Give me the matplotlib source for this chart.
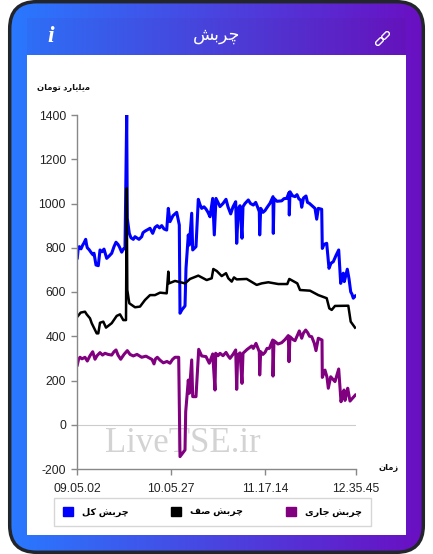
import matplotlib
matplotlib.use("Agg")
import matplotlib.pyplot as plt
import numpy as np
from matplotlib.patches import FancyBboxPatch, Rectangle, Patch
from matplotlib.colors import LinearSegmentedColormap
from matplotlib.transforms import Affine2D

plt.rcParams['font.family'] = ['Liberation Sans', 'DejaVu Sans']
plt.rcParams['axes.unicode_minus'] = False

# arabic letters are already shaped, reversed because matplotlib does not do rtl
title_txt = "\uFB7C\uFEAE\uFE91\uFEB6"[::-1]
y_label = "\uFEE3\uFBFE\uFEE0\uFBFE\uFE8E\uFEAD\uFEA9 \uFE97\uFEEE\uFEE3\uFE8E\uFEE5"[::-1]
x_label = "\uFEAF\uFEE3\uFE8E\uFEE5"[::-1]
name_total = "\uFB7C\uFEAE\uFE91\uFEB6 \uFB90\uFEDE"[::-1]
name_queue = "\uFB7C\uFEAE\uFE91\uFEB6 \uFEBB\uFED2"[::-1]
name_current = "\uFB7C\uFEAE\uFE91\uFEB6 \uFE9F\uFE8E\uFEAD\uFBFC"[::-1]

tick_pos = [0, 94, 188, 279]
tick_labels = ["09.05.02", "10.05.27", "11.17.14", "12.35.45"]
y_ticks = [-200, 0, 200, 400, 600, 800, 1000, 1200, 1400]

total_x = [0.3, 1.3, 2.3, 4, 5.7, 7, 8.7, 9.5, 10.3, 12,
           14.7, 16, 17, 19, 21.3, 23, 25, 27, 29.7, 32,
           34.7, 37, 39, 41, 42.3, 44.7, 46.5, 48, 49.7, 50.3,
           52.3, 54, 56.3, 58, 59.7, 62, 64.7, 66, 68, 70,
           73, 75.7, 78, 80.3, 82.5, 84.7, 87, 89.7, 91.3, 93,
           96, 99.7, 102.3, 103, 105, 108, 109, 111.3, 112.3, 114.7,
           115.7, 119, 121.3, 123, 124.7, 127, 129, 131, 133, 135.7,
           137.3, 139, 141, 143, 146, 149, 151, 153.7, 156, 158.7,
           159.7, 161.3, 163, 165, 166, 168, 171.3, 173.5, 176.3, 178.7,
           180.5, 182.3, 182.7, 183.7, 186, 188, 190.5, 193, 196, 196.3,
           197, 200, 204.7, 207, 209.7, 212, 212.3, 213, 215.5, 218,
           220, 222, 223.7, 224.7, 226.5, 229, 230.5, 232.3, 235, 238,
           239.7, 241.3, 244.7, 245.3, 247, 249.7, 252, 254, 256.3, 259,
           261.7, 263.7, 265, 266.3, 267.3, 270.3, 272, 273.7, 275, 276.3,
           278.3]
total_y = [754, 800, 805, 795, 812, 822, 838, 815, 800, 792,
           775, 768, 775, 722, 719, 790, 782, 794, 752, 762,
           775, 805, 825, 815, 805, 780, 795, 797, 1400, 933,
           865, 845, 838, 850, 845, 838, 850, 868, 875, 880,
           888, 865, 892, 900, 890, 900, 885, 880, 978, 918,
           945, 960, 903, 504, 520, 537, 707, 858, 812, 956,
           790, 805, 1019, 995, 978, 985, 975, 960, 940, 1023,
           858, 1023, 1005, 986, 1000, 1019, 985, 953, 985, 1008,
           820, 978, 990, 843, 986, 1000, 1016, 1000, 993, 1005,
           985, 963, 858, 978, 960, 968, 985, 1001, 1031, 865,
           1023, 1010, 1012, 1022, 1023, 1049, 948, 1053, 1035, 1031,
           1040, 1020, 1016, 983, 1025, 1034, 1005, 1001, 990, 978,
           929, 978, 974, 797, 815, 820, 707, 730, 737, 765,
           790, 639, 670, 685, 647, 703, 660, 601, 590, 572,
           582]

queue_x = [0.3, 3.7, 8, 9.7, 13, 14.7, 19.7, 21.3, 23, 26.3,
           29, 34.7, 39.7, 43, 46.3, 49, 49.7, 50.3, 52.3, 58,
           63, 68, 73, 78, 83, 89.7, 91.3, 92, 98, 108,
           113, 121.3, 129.7, 134.7, 136.3, 139.7, 144.7, 149, 151.3, 154.7,
           157, 159.7, 169.7, 179.7, 184.7, 191.3, 201.3, 210.3, 212.3, 220.3,
           223, 233, 241.3, 249.7, 252.3, 254.7, 258, 271.3, 273.7, 278]
queue_y = [488, 507, 511, 499, 481, 459, 413, 413, 461, 466,
           439, 459, 492, 499, 473, 473, 1069, 609, 549, 531,
           534, 564, 586, 586, 597, 594, 692, 639, 650, 639,
           659, 674, 654, 662, 704, 695, 672, 685, 662, 647,
           666, 657, 659, 632, 639, 644, 636, 636, 659, 639,
           609, 606, 586, 572, 526, 519, 537, 538, 466, 439]

current_x = [0.3, 1.5, 3, 5, 8, 10.3, 13, 15.7, 18, 20,
             23, 25.5, 28, 31, 34.7, 37, 39, 41, 43.7, 47,
             50.3, 53, 56.3, 60, 64.7, 69, 73, 75, 77, 78.5,
             80.3, 83, 86.3, 90, 93, 95.5, 98, 101.7, 103, 108,
             108.7, 111.3, 112.3, 114.7, 115.7, 119, 121.7, 124.7, 129, 132.3,
             135.7, 138, 138.7, 141, 143, 146, 149, 151, 153, 156,
             158.7, 159.7, 160.7, 163, 165, 166, 170, 174.7, 176.3, 179,
             181, 182.3, 182.7, 183.7, 186, 188, 190, 192.3, 195.7, 196,
             197, 201, 204.7, 208, 211.3, 212, 213, 216, 218, 220,
             222.3, 224.7, 226.5, 228.7, 230.7, 232.5, 234.7, 237.3, 239, 241.3,
             245, 245.3, 248, 250, 251.3, 253.7, 256, 258, 261.7, 264,
             266, 267, 268, 270, 270.7, 273, 275.5, 278.3]
current_y = [270, 295, 305, 298, 305, 288, 312, 330, 296, 312,
             326, 315, 323, 318, 315, 330, 338, 315, 296, 318,
             335, 318, 311, 318, 305, 310, 300, 295, 275, 298,
             305, 292, 280, 286, 278, 295, 305, 305, -144, -114,
             59, 202, 142, 293, 127, 127, 341, 311, 308, 278,
             320, 157, 323, 312, 323, 312, 327, 312, 300, 318,
             338, 160, 315, 325, 187, 323, 340, 356, 345, 368,
             345, 330, 225, 330, 318, 327, 345, 345, 383, 220,
             380, 365, 371, 385, 403, 285, 398, 385, 380, 400,
             424, 391, 415, 428, 416, 400, 398, 368, 335, 391,
             383, 214, 247, 215, 165, 217, 205, 195, 252, 104,
             145, 157, 110, 150, 165, 107, 120, 134]

W, H = 433, 554
fig = plt.figure(figsize=(W / 100, H / 100), dpi=100, facecolor='white')

# card behind everything, drawn in pixel coords
bg = fig.add_axes([0, 0, 1, 1], zorder=0)
bg.set_xlim(0, W)
bg.set_ylim(H, 0)
bg.axis('off')
cmap = LinearSegmentedColormap.from_list('card', ['#2979ff', '#6a0fc2'])
band_cmap = LinearSegmentedColormap.from_list('band', ['#2e6ef6', '#6513bc'])
grad = np.linspace(0, 1, 256).reshape(1, -1)
im = bg.imshow(grad, cmap=cmap, extent=[9, 424, 553, 1], aspect='auto', zorder=1)
bg.imshow(grad, cmap=band_cmap, extent=[27, 406, 55, 18], aspect='auto', zorder=1.5)
card = FancyBboxPatch((9.7, 1.7), 413.6, 550.6, boxstyle="round,pad=0,rounding_size=27",
                      fc='none', ec='#22262b', lw=2.5, zorder=3)
bg.add_patch(card)
im.set_clip_path(card)
bg.set_xlim(0, W)
bg.set_ylim(H, 0)
bg.add_patch(Rectangle((27, 55), 379, 480, fc='white', ec='none', zorder=2))

bg.text(217, 36, title_txt, color='white', fontsize=12.5, ha='center', va='center', zorder=4)
bg.text(51, 37, "i", color='white', fontsize=17, family='Liberation Serif', style='italic',
        weight='bold', ha='center', va='center', zorder=4)
# link icon
for cx, cy in [(379.5, 41.5), (385.5, 35.5)]:
    rot = Affine2D().rotate_deg_around(cx, cy, -45) + bg.transData
    bg.add_patch(FancyBboxPatch((cx - 4.5, cy - 2.2), 9, 4.4, boxstyle="round,pad=0,rounding_size=2.1",
                                fc='none', ec='white', lw=1, transform=rot, zorder=4))

bg.text(90, 88, y_label, fontsize=6, weight='bold', color='#111111', ha='right', va='center', zorder=4)
bg.text(399, 468, x_label, fontsize=6, weight='bold', color='#111111', ha='right', va='center', zorder=4)
bg.text(105, 452, "LiveTSE.ir", fontsize=25, family='Liberation Serif', color='#d3d3d3',
        ha='left', va='baseline', zorder=4)

ax = fig.add_axes([77 / W, 1 - 469 / H, 279 / W, 354 / H], zorder=2)
ax.patch.set_alpha(0)
ax.plot(total_x, total_y, color='#0000ff', lw=2.2, solid_joinstyle='round', label=name_total)
ax.plot(queue_x, queue_y, color='#000000', lw=1.8, solid_joinstyle='round', label=name_queue)
ax.plot(current_x, current_y, color='#800080', lw=2.2, solid_joinstyle='round', label=name_current)
ax.axhline(0, color='#cccccc', lw=0.8, zorder=0)

ax.set_xlim(0, 279)
ax.set_ylim(-200, 1400)
ax.set_xticks(tick_pos)
ax.set_xticklabels(tick_labels)
ax.set_yticks(y_ticks)
ax.tick_params(axis='both', length=4, width=1, color='#888888', labelsize=8.7, labelcolor='#222222')
ax.tick_params(axis='x', pad=6)
ax.tick_params(axis='y', pad=4)
ax.spines['top'].set_visible(False)
ax.spines['right'].set_visible(False)
for side in ['left', 'bottom']:
    ax.spines[side].set_color('#888888')
    ax.spines[side].set_linewidth(1)

handles = [Patch(color='#0000ff', label=name_total),
           Patch(color='#000000', label=name_queue),
           Patch(color='#800080', label=name_current)]
leg = fig.legend(handles=handles, ncol=3, loc='center', bbox_to_anchor=(212.5 / W, 1 - 512 / H),
                 prop={'size': 6.8, 'weight': 'bold'}, frameon=True, fancybox=False, edgecolor='#cccccc',
                 handlelength=1.05, handleheight=1.05, handletextpad=1.0, columnspacing=4.5,
                 borderpad=0.95, borderaxespad=0)
leg.get_frame().set_linewidth(1)

fig.savefig('out.png', dpi=100)
